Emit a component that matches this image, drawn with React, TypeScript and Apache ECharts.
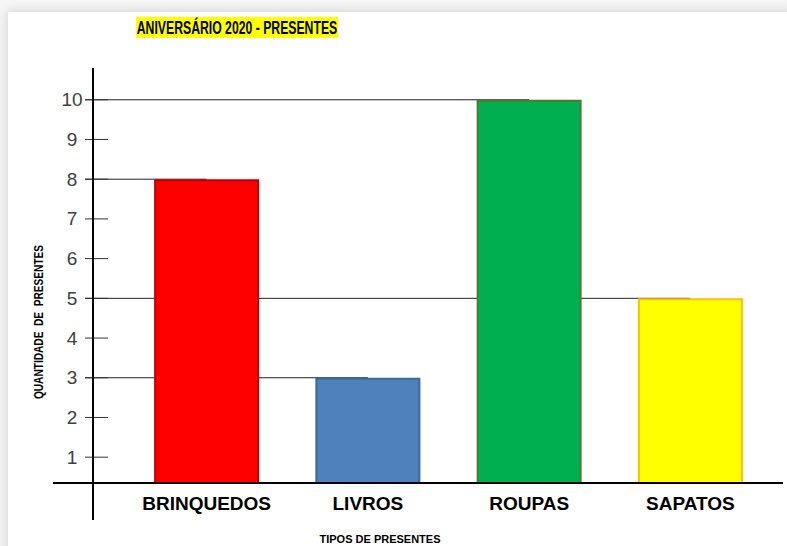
import React, { useEffect, useRef } from 'react';
import * as echarts from 'echarts';

// ---- data ----
const CATEGORIES = ['BRINQUEDOS', 'LIVROS', 'ROUPAS', 'SAPATOS'];
const VALUES = [8, 3, 10, 5];
const BAR_COLORS = ['#ff0000', '#4f81bd', '#00b050', '#ffff00'];
const BAR_BORDERS = ['#c00000', '#3c6896', '#4f7a32', '#ffc000'];
const Y_TICKS = [1, 2, 3, 4, 5, 6, 7, 8, 9, 10];
const TITLE = 'ANIVERSÁRIO 2020 - PRESENTES';
const X_NAME = 'TIPOS DE PRESENTES';
const Y_NAME = 'QUANTIDADE  DE  PRESENTES';

// ---- layout ----
const W = 787;
const H = 546;
const GRID_LEFT = 126;
const GRID_RIGHT = 16;
const GRID_TOP = 68;
const GRID_BOTTOM = 63;
const AXIS_X = 93;
const AXIS_Y = H - GRID_BOTTOM;
const Y_MIN = 0.35;
const Y_MAX = 10.8;
const FONT = '"Liberation Sans", Arial, sans-serif';

export default function App() {
  const ref = useRef<HTMLDivElement>(null);

  useEffect(() => {
    const chart = echarts.init(ref.current as HTMLDivElement, null, { renderer: 'svg' });

    const option: any = {
      animation: false,
      backgroundColor: '#f6f6f6',
      grid: { left: GRID_LEFT, right: GRID_RIGHT, top: GRID_TOP, bottom: GRID_BOTTOM },
      xAxis: {
        type: 'category',
        data: CATEGORIES,
        axisLine: { show: false },
        axisTick: { show: false },
        splitLine: { show: false },
        axisLabel: {
          interval: 0,
          margin: 11,
          fontSize: 19,
          fontWeight: 'bold',
          color: '#000',
          fontFamily: FONT,
        },
      },
      yAxis: {
        type: 'value',
        min: Y_MIN,
        max: Y_MAX,
        minInterval: 1,
        maxInterval: 1,
        offset: GRID_LEFT - AXIS_X,
        axisLine: { show: false },
        axisTick: { show: false },
        splitLine: { show: false },
        axisLabel: {
          margin: 21,
          align: 'center',
          verticalAlign: 'middle',
          padding: [0, 0, 15, 0],
          fontSize: 19,
          color: '#404040',
          fontFamily: FONT,
          formatter: (v: number) => (Number.isInteger(v) ? String(v) : ''),
        },
      },
      series: [
        {
          // reference lines from the axis to each bar
          type: 'custom',
          z: 1,
          data: VALUES.map((v, i) => [i, v]),
          encode: { x: 0, y: 1 },
          renderItem: (_params: any, api: any) => {
            const p = api.coord([api.value(0), api.value(1)]);
            return {
              type: 'line',
              shape: { x1: AXIS_X - 8, y1: p[1], x2: p[0], y2: p[1] },
              style: { stroke: '#222', lineWidth: 1 },
            };
          },
        },
        {
          // tick marks crossing the y axis
          type: 'custom',
          z: 1,
          data: Y_TICKS.map((v) => [0, v]),
          encode: { x: 0, y: 1 },
          renderItem: (_params: any, api: any) => {
            const p = api.coord([api.value(0), api.value(1)]);
            return {
              type: 'line',
              shape: { x1: AXIS_X - 8, y1: p[1], x2: AXIS_X + 15, y2: p[1] },
              style: { stroke: '#333', lineWidth: 1 },
            };
          },
        },
        {
          type: 'bar',
          z: 3,
          barWidth: 105,
          data: VALUES.map((v, i) => ({
            value: v,
            itemStyle: { color: BAR_COLORS[i], borderColor: BAR_BORDERS[i], borderWidth: 2 },
          })),
        },
      ],
      graphic: [
        {
          type: 'rect',
          z: -10,
          shape: { x: 8, y: 12, width: W, height: H },
          style: { fill: '#ffffff', shadowBlur: 12, shadowColor: 'rgba(0,0,0,0.18)' },
        },
        {
          type: 'rect',
          z: 5,
          shape: { x: 136, y: 17, width: 202, height: 21 },
          style: { fill: '#ffff00' },
        },
        {
          type: 'text',
          z: 6,
          x: 237,
          y: 28,
          scaleX: 0.68,
          style: {
            text: TITLE,
            fontSize: 18,
            fontWeight: 'bold',
            fontFamily: FONT,
            fill: '#000',
            align: 'center',
            verticalAlign: 'middle',
          },
        },
        {
          type: 'line',
          z: 50,
          shape: { x1: 53, y1: AXIS_Y, x2: 783, y2: AXIS_Y },
          style: { stroke: '#000', lineWidth: 2 },
        },
        {
          type: 'line',
          z: 50,
          shape: { x1: AXIS_X, y1: GRID_TOP, x2: AXIS_X, y2: 520 },
          style: { stroke: '#000', lineWidth: 2 },
        },
        {
          type: 'text',
          z: 6,
          x: 380,
          y: 533,
          style: {
            text: X_NAME,
            fontSize: 11,
            fontWeight: 'bold',
            fontFamily: FONT,
            fill: '#000',
            align: 'center',
            verticalAlign: 'top',
          },
        },
        {
          type: 'text',
          z: 6,
          x: 38,
          y: 322,
          rotation: Math.PI / 2,
          scaleX: 0.78,
          style: {
            text: Y_NAME,
            fontSize: 13,
            fontWeight: 'bold',
            fontFamily: FONT,
            fill: '#000',
            align: 'center',
            verticalAlign: 'middle',
          },
        },
      ],
    };

    chart.setOption(option);
    return () => chart.dispose();
  }, []);

  return (
    <div
      ref={ref}
      style={{ position: 'fixed', left: 0, top: 0, width: W, height: H }}
    />
  );
}
